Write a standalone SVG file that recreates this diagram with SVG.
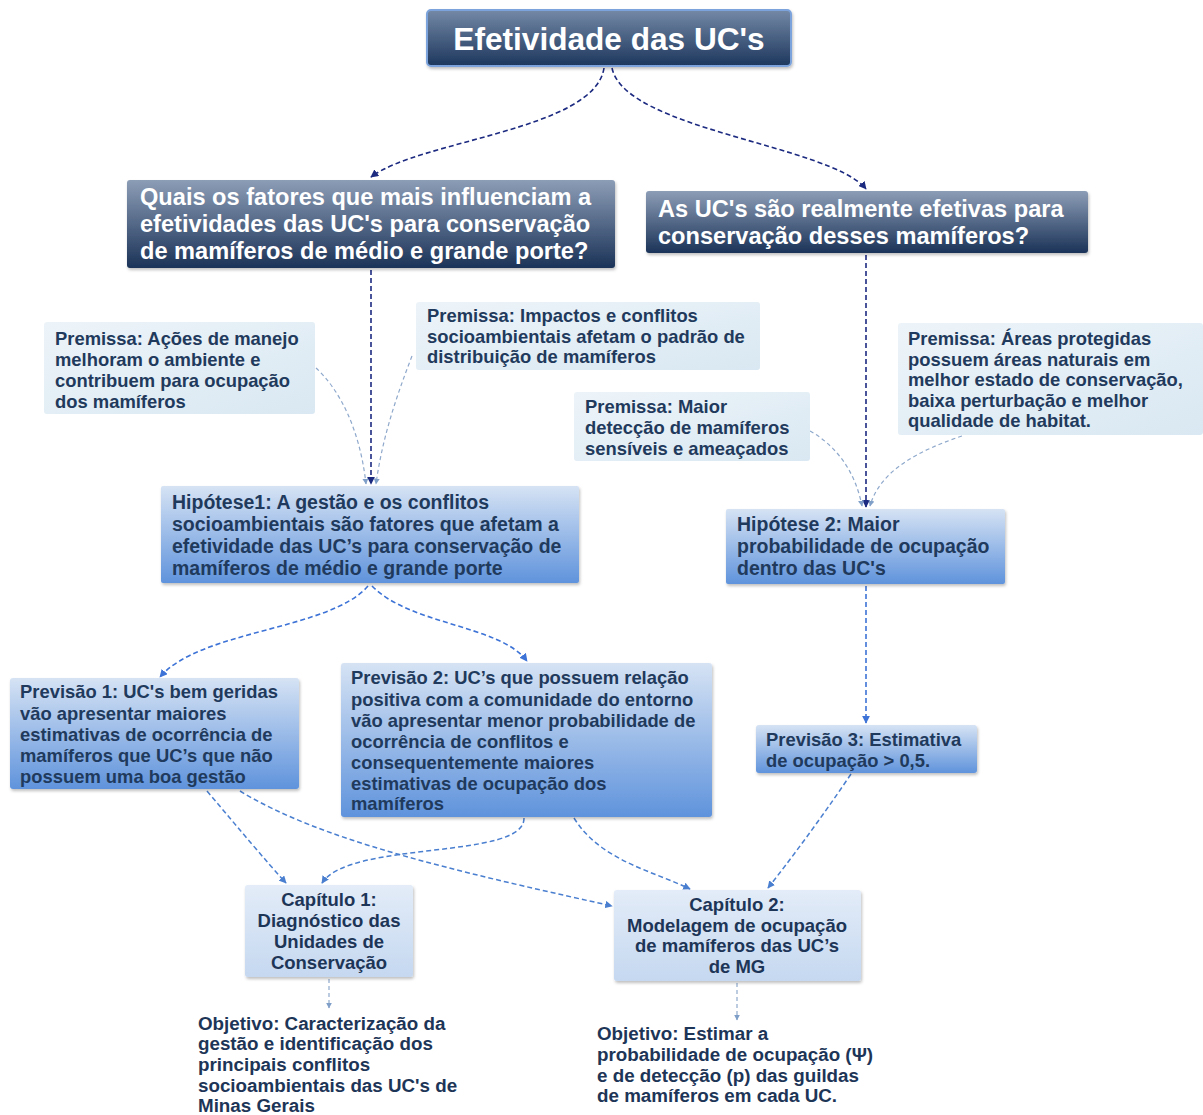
<svg xmlns="http://www.w3.org/2000/svg" width="1203" height="1115" viewBox="0 0 1203 1115">
<defs>
<linearGradient id="gDark" x1="0" y1="0" x2="0" y2="1"><stop offset="0" stop-color="#8c9db6"/><stop offset="1" stop-color="#1b3358"/></linearGradient>
<linearGradient id="gTitle" x1="0" y1="0" x2="0" y2="1"><stop offset="0" stop-color="#7489a6"/><stop offset="1" stop-color="#1d375d"/></linearGradient>
<linearGradient id="gBlue" x1="0" y1="0" x2="0" y2="1"><stop offset="0" stop-color="#d6e3f4"/><stop offset="1" stop-color="#5f93dc"/></linearGradient>
<linearGradient id="gPrem" x1="0" y1="0" x2="1" y2="1"><stop offset="0" stop-color="#edf4f9"/><stop offset="1" stop-color="#d9e8f2"/></linearGradient>
<linearGradient id="gCap" x1="0" y1="0" x2="0" y2="1"><stop offset="0" stop-color="#e3ecf8"/><stop offset="1" stop-color="#c5d8f0"/></linearGradient>
<filter id="sh" x="-5%" y="-5%" width="110%" height="120%"><feDropShadow dx="1" dy="2" stdDeviation="1.5" flood-color="#000" flood-opacity="0.25"/></filter>
<marker id="aNavy" viewBox="0 0 10 10" refX="9" refY="5" markerWidth="5" markerHeight="5" orient="auto"><path d="M0,0 L10,5 L0,10 z" fill="#1c2a80"/></marker>
<marker id="aBlue" viewBox="0 0 10 10" refX="9" refY="5" markerWidth="5" markerHeight="5" orient="auto"><path d="M0,0 L10,5 L0,10 z" fill="#3d73d6"/></marker>
<marker id="aLight" viewBox="0 0 10 10" refX="9" refY="5" markerWidth="5" markerHeight="5" orient="auto"><path d="M0,0 L10,5 L0,10 z" fill="#7f9fc8"/></marker>
<marker id="aMid" viewBox="0 0 10 10" refX="9" refY="5" markerWidth="5" markerHeight="5" orient="auto"><path d="M0,0 L10,5 L0,10 z" fill="#4a7fd0"/></marker>
</defs>
<style>
text{font-family:"Liberation Sans",Arial,sans-serif;font-weight:bold}
.title{font-size:31.6px;fill:#fff}
.q{font-size:23.6px;fill:#fff}
.p{font-size:18.4px;fill:#1f3a5c}
.h{font-size:19.5px;fill:#1f3a5c}
.v{font-size:18.4px;fill:#1f3a5c}
.c{font-size:18.5px;fill:#1d3557;text-anchor:middle}
.o{font-size:18.8px;fill:#1d3557}
.navy{fill:none;stroke:#1c2a80;stroke-width:1.6;stroke-dasharray:5 3;marker-end:url(#aNavy)}
.blue{fill:none;stroke:#3d73d6;stroke-width:1.6;stroke-dasharray:5 3;marker-end:url(#aBlue)}
.mid{fill:none;stroke:#4a7fd0;stroke-width:1.5;stroke-dasharray:5 3;marker-end:url(#aMid)}
.light{fill:none;stroke:#8fa9cc;stroke-width:1.2;stroke-dasharray:4 3;marker-end:url(#aLight)}
</style>

<g id="connectors">
<path class="navy" d="M604,68 C595,130 420,140 371,177"/>
<path class="navy" d="M612,68 C625,130 830,145 866,189"/>
<path class="navy" d="M371,270 L371,484"/>
<path class="light" d="M316,368 C340,390 360,430 366,484"/>
<path class="light" d="M412,356 C395,400 382,440 376,484"/>
<path class="navy" d="M866,255 L866,507"/>
<path class="light" d="M810,431 C835,445 855,470 862,506"/>
<path class="light" d="M962,436 C920,450 880,470 870,506"/>
<path class="blue" d="M368,586 C330,630 200,630 160,677"/>
<path class="blue" d="M372,586 C410,625 500,625 527,661"/>
<path class="blue" d="M866,586 L866,723"/>
<path class="mid" d="M207,791 C240,830 265,860 286,883"/>
<path class="mid" d="M240,791 C320,840 450,870 612,906"/>
<path class="mid" d="M524,818 C525,860 350,840 322,883"/>
<path class="mid" d="M574,818 C600,860 650,870 690,889"/>
<path class="mid" d="M851,774 C820,820 790,860 768,888"/>
<path class="light" d="M329,979 L329,1008"/>
<path class="light" d="M737,983 L737,1020"/>
</g>

<g id="title">
<rect x="427" y="10" width="364" height="56" rx="4" fill="url(#gTitle)" stroke="#7ba3dc" stroke-width="2" filter="url(#sh)"/>
<text class="title" x="609" y="50" text-anchor="middle">Efetividade das UC's</text>
</g>

<g id="q1">
<rect x="127" y="180" width="488" height="88" rx="3" fill="url(#gDark)" filter="url(#sh)"/>
<text class="q" x="140" y="205">Quais os fatores que mais influenciam a</text>
<text class="q" x="140" y="232">efetividades das UC's para conservação</text>
<text class="q" x="140" y="259">de mamíferos de médio e grande porte?</text>
</g>

<g id="q2">
<rect x="646" y="191" width="442" height="62" rx="3" fill="url(#gDark)" filter="url(#sh)"/>
<text class="q" x="658" y="217">As UC's são realmente efetivas para</text>
<text class="q" x="658" y="244">conservação desses mamíferos?</text>
</g>

<g id="premissa1">
<rect x="44" y="322" width="271" height="92" rx="3" fill="url(#gPrem)"/>
<text class="p" x="55" y="345">Premissa: Ações de manejo</text>
<text class="p" x="55" y="366">melhoram o ambiente e</text>
<text class="p" x="55" y="387">contribuem para ocupação</text>
<text class="p" x="55" y="408">dos mamíferos</text>
</g>

<g id="premissa2">
<rect x="416" y="302" width="344" height="68" rx="3" fill="url(#gPrem)"/>
<text class="p" x="427" y="322">Premissa: Impactos e conflitos</text>
<text class="p" x="427" y="343">socioambientais afetam o padrão de</text>
<text class="p" x="427" y="363">distribuição de mamíferos</text>
</g>

<g id="premissa3">
<rect x="574" y="392" width="236" height="69" rx="3" fill="url(#gPrem)"/>
<text class="p" x="585" y="413">Premissa: Maior</text>
<text class="p" x="585" y="434">detecção de  mamíferos</text>
<text class="p" x="585" y="455">sensíveis e ameaçados</text>
</g>

<g id="premissa4">
<rect x="898" y="323" width="305" height="112" rx="3" fill="url(#gPrem)"/>
<text class="p" x="908" y="345">Premissa: Áreas protegidas</text>
<text class="p" x="908" y="366">possuem  áreas naturais em</text>
<text class="p" x="908" y="386">melhor estado de  conservação,</text>
<text class="p" x="908" y="407">baixa perturbação e  melhor</text>
<text class="p" x="908" y="427">qualidade de habitat.</text>
</g>

<g id="hipotese1">
<rect x="161" y="486" width="418" height="97" rx="2" fill="url(#gBlue)" filter="url(#sh)"/>
<text class="h" x="172" y="509">Hipótese1: A gestão e os conflitos</text>
<text class="h" x="172" y="531">socioambientais são fatores que afetam a</text>
<text class="h" x="172" y="553">efetividade das UC’s para conservação de</text>
<text class="h" x="172" y="575">mamíferos de médio e grande porte</text>
</g>

<g id="hipotese2">
<rect x="726" y="509" width="279" height="75" rx="2" fill="url(#gBlue)" filter="url(#sh)"/>
<text class="h" x="737" y="531">Hipótese 2: Maior</text>
<text class="h" x="737" y="553">probabilidade de ocupação</text>
<text class="h" x="737" y="575">dentro das UC's</text>
</g>

<g id="previsao1">
<rect x="10" y="678" width="289" height="111" rx="3" fill="url(#gBlue)" filter="url(#sh)"/>
<text class="v" x="20" y="698">Previsão 1: UC's bem geridas</text>
<text class="v" x="20" y="720">vão apresentar maiores</text>
<text class="v" x="20" y="741">estimativas de ocorrência de</text>
<text class="v" x="20" y="762">mamíferos que UC’s que não</text>
<text class="v" x="20" y="783">possuem uma boa gestão</text>
</g>

<g id="previsao2">
<rect x="341" y="663" width="371" height="154" rx="3" fill="url(#gBlue)" filter="url(#sh)"/>
<text class="v" x="351" y="684">Previsão 2: UC’s que possuem relação</text>
<text class="v" x="351" y="706">positiva com a comunidade do entorno</text>
<text class="v" x="351" y="727">vão apresentar menor probabilidade de</text>
<text class="v" x="351" y="748">ocorrência de conflitos e</text>
<text class="v" x="351" y="769">consequentemente maiores</text>
<text class="v" x="351" y="790">estimativas de ocupação dos</text>
<text class="v" x="351" y="810">mamíferos</text>
</g>

<g id="previsao3">
<rect x="756" y="725" width="221" height="48" rx="3" fill="url(#gBlue)" filter="url(#sh)"/>
<text class="v" x="766" y="746">Previsão 3: Estimativa</text>
<text class="v" x="766" y="767">de ocupação &gt; 0,5.</text>
</g>

<g id="capitulo1">
<rect x="245" y="885" width="168" height="92" rx="3" fill="url(#gCap)" filter="url(#sh)"/>
<text class="c" x="329" y="906">Capítulo 1:</text>
<text class="c" x="329" y="927">Diagnóstico das</text>
<text class="c" x="329" y="948">Unidades de</text>
<text class="c" x="329" y="969">Conservação</text>
</g>

<g id="capitulo2">
<rect x="614" y="890" width="247" height="91" rx="3" fill="url(#gCap)" filter="url(#sh)"/>
<text class="c" x="737" y="911">Capítulo 2:</text>
<text class="c" x="737" y="932">Modelagem de ocupação</text>
<text class="c" x="737" y="952">de mamíferos das UC’s</text>
<text class="c" x="737" y="973">de MG</text>
</g>

<g id="objetivo1">
<text class="o" x="198" y="1030">Objetivo: Caracterização da</text>
<text class="o" x="198" y="1050">gestão e identificação dos</text>
<text class="o" x="198" y="1071">principais conflitos</text>
<text class="o" x="198" y="1092">socioambientais das UC's de</text>
<text class="o" x="198" y="1112">Minas Gerais</text>
</g>

<g id="objetivo2">
<text class="o" x="597" y="1040">Objetivo: Estimar a</text>
<text class="o" x="597" y="1061">probabilidade de ocupação (Ψ)</text>
<text class="o" x="597" y="1082">e de detecção (p) das guildas</text>
<text class="o" x="597" y="1102">de mamíferos em cada UC.</text>
</g>
</svg>
